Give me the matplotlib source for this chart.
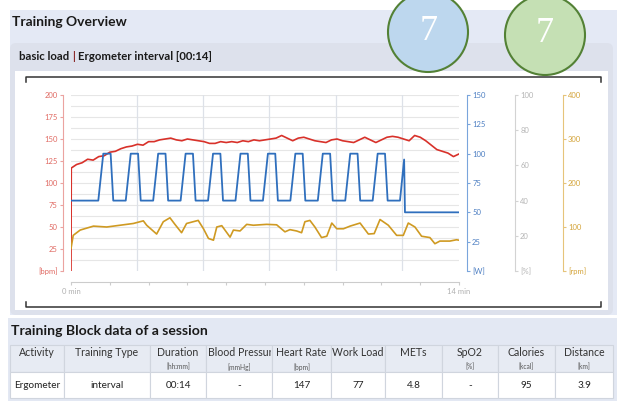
import numpy as np
import matplotlib.pyplot as plt
from matplotlib.patches import Rectangle, FancyBboxPatch, Ellipse
from matplotlib.transforms import Bbox, TransformedBbox

plt.rcParams['font.family'] = ['Lato', 'DejaVu Sans']

# heart rate [bpm] over time [min]
hr_min = [0.0, 0.01, 0.2, 0.4, 0.6, 0.8, 1.0, 1.2, 1.4, 1.6, 1.8, 2.0, 2.2, 2.4, 2.6, 2.8,
          3.0, 3.2, 3.4, 3.6, 3.8, 4.0, 4.2, 4.4, 4.6, 4.8, 5.0, 5.2, 5.4, 5.6, 5.8,
          6.0, 6.2, 6.4, 6.6, 6.8, 7.0, 7.2, 7.4, 7.6, 7.8, 8.0, 8.2, 8.4, 8.6, 8.8,
          9.0, 9.2, 9.4, 9.6, 9.8, 10.0, 10.2, 10.4, 10.6, 10.8, 11.0, 11.2, 11.4,
          11.6, 11.8, 12.0, 12.2, 12.4, 12.6, 12.8, 13.0, 13.2, 13.4, 13.6, 13.8, 14.0]
hr_bpm = [0, 117, 121, 123, 127, 126, 130, 131, 135, 136, 139, 141, 142, 144, 143, 147,
          147, 149, 150, 151, 149, 148, 150, 149, 148, 147, 145, 145, 147, 146, 147,
          146, 148, 147, 149, 148, 149, 150, 151, 154, 151, 148, 151, 152, 150, 148,
          147, 146, 149, 150, 148, 147, 146, 149, 152, 149, 146, 149, 152,
          153, 152, 150, 148, 154, 152, 148, 143, 138, 136, 134, 130, 133]

# work load [W]
wl_min = [0.0, 0.985, 1.165, 1.43, 1.525, 1.975, 2.155, 2.42, 2.515, 2.965, 3.145, 3.41, 3.505,
          3.955, 4.135, 4.40, 4.495, 4.945, 5.125, 5.39, 5.485, 5.935, 6.115, 6.38, 6.475,
          6.925, 7.105, 7.37, 7.465, 7.915, 8.095, 8.36, 8.455, 8.905, 9.085, 9.35, 9.445,
          9.895, 10.075, 10.34, 10.435, 10.885, 11.065, 11.33, 11.425, 11.87, 12.02, 12.05, 14.0]
wl_watt = [60, 60, 100, 100, 60, 60, 100, 100, 60, 60, 100, 100, 60,
           60, 100, 100, 60, 60, 100, 100, 60, 60, 100, 100, 60,
           60, 100, 100, 60, 60, 100, 100, 60, 60, 100, 100, 60,
           60, 100, 100, 60, 60, 100, 100, 60, 60, 95, 50, 50]

# cadence [rpm]
cad_min = [0.0, 0.08, 0.33, 0.81, 1.29, 1.77, 2.25, 2.61, 2.73, 3.09, 3.33, 3.57, 3.75, 3.99,
           4.17, 4.59, 4.78, 4.96, 5.14, 5.26, 5.44, 5.74, 5.86, 6.10, 6.34, 6.58, 7.06,
           7.42, 7.72, 7.90, 8.14, 8.32, 8.44, 8.62, 8.80, 9.04, 9.23, 9.41, 9.59, 9.83,
           10.07, 10.43, 10.73, 10.94, 11.15, 11.45, 11.75, 11.99, 12.17, 12.41, 12.65,
           12.95, 13.13, 13.31, 13.67, 13.91, 14.0]
cad_rpm = [51, 81, 93, 102, 100, 104, 108, 114, 104, 84, 112, 121, 106, 87,
           108, 115, 96, 74, 70, 100, 103, 77, 93, 91, 106, 104, 106,
           105, 89, 94, 91, 87, 112, 115, 100, 76, 79, 109, 96, 96,
           102, 109, 84, 85, 117, 104, 81, 81, 109, 100, 79,
           76, 62, 68, 68, 71, 70]

grid_min = [2.38, 4.76, 7.15, 9.55, 11.94]

headers = ["Activity", "Training Type", "Duration", "Blood Pressure", "Heart Rate",
           "Work Load", "METs", "SpO2", "Calories", "Distance"]
units = ["", "", "[hh:mm]", "[mmHg]", "[bpm]", "", "", "[%]", "[kcal]", "[km]"]
values = ["Ergometer", "interval", "00:14", "-", "147", "77", "4.8", "-", "95", "3.9"]
col_x = [10, 64, 150, 206, 272, 331, 385, 442, 498, 555, 613]

W, H = 617, 401
fig = plt.figure(figsize=(W / 100, H / 100), dpi=100)

# page background drawn in pixel coordinates
bg = fig.add_axes([0, 0, 1, 1])
bg.set_xlim(0, W)
bg.set_ylim(H, 0)
bg.axis('off')
bg.set_zorder(-1)

bg.add_patch(Rectangle((10, 10), 607, 305, fc='#e4e9f5', ec='none'))
bg.add_patch(FancyBboxPatch((10, 43), 603, 272, boxstyle='round,pad=0,rounding_size=6',
                            fc='#dde1ec', ec='none'))
bg.add_patch(Rectangle((15, 71), 593, 239, fc='white', ec='none'))
bg.plot([25.5, 25.5, 601, 601], [81.5, 77, 77, 81.5], color='#333333', lw=1.1)
bg.plot([25.5, 25.5, 601, 601], [302, 306.5, 306.5, 302], color='#333333', lw=1.1)

bg.text(12, 22, "Training Overview", fontsize=10, fontweight='bold', color='#1a1a1a',
        ha='left', va='center')
t1 = bg.text(19, 57, "basic load", fontsize=8.2, fontweight='bold', color='#1a1a1a',
             ha='left', va='center')
t2 = bg.annotate("|", xy=(1, 0), xycoords=t1, xytext=(1.8, 0), textcoords='offset points',
                 va='bottom', fontsize=8.2, fontweight='bold', color='#8c2d2d')
bg.annotate("Ergometer interval [00:14]", xy=(1, 0), xycoords=t2, xytext=(2.5, 0),
            textcoords='offset points', va='bottom', fontsize=8.2, fontweight='bold',
            color='#1a1a1a')

# the two "7" badges
bg.add_patch(Ellipse((428, 32), 80, 80, fc='#bdd7ee', ec='#538135', lw=1.5))
bg.add_patch(Ellipse((545, 35), 80, 80, fc='#c5e0b4', ec='#538135', lw=1.5))
bg.text(429, 32, "7", fontsize=26, color='white', family='Liberation Serif',
        ha='center', va='center')
bg.text(545, 34, "7", fontsize=26, color='white', family='Liberation Serif',
        ha='center', va='center')

# table block
bg.add_patch(Rectangle((8, 318), 609, 83, fc='#e3e8f3', ec='none'))
bg.text(11, 331, "Training Block data of a session", fontsize=10.1, fontweight='bold',
        color='#1a1a1a', ha='left', va='center')
for i in range(len(headers)):
    x0, x1 = col_x[i], col_x[i + 1]
    bg.add_patch(Rectangle((x0, 345), x1 - x0, 27, fc='#e7ebf3', ec='#d0d5de', lw=0.8))
    bg.add_patch(Rectangle((x0, 372), x1 - x0, 26, fc='white', ec='#d0d5de', lw=0.8))
    xc = (x0 + x1) / 2
    if headers[i] == "Blood Pressure":
        # too wide for its column: left aligned and cut off like in the web table
        ht = bg.text(x0 + 2, 353, headers[i], fontsize=7.6, color='#333333',
                     ha='left', va='center')
        ht.set_clip_box(TransformedBbox(Bbox([[x0, 345], [x1 - 1, 372]]), bg.transData))
        ht.set_clip_on(True)
    else:
        bg.text(xc, 353, headers[i], fontsize=7.6, color='#333333',
                ha='center', va='center')
    if units[i]:
        bg.text(xc, 367, units[i], fontsize=4.8, color='#555555', ha='center', va='center')
    bg.text(xc, 386, values[i], fontsize=7.2, color='#222222', ha='center', va='center')

# chart
ax = fig.add_axes([71 / W, 1 - 271 / H, 388 / W, 176 / H])
ax.patch.set_visible(False)
ax.set_xlim(0, 14)
ax.set_ylim(0, 200)
for y in np.arange(12.5, 200.1, 12.5):
    ax.axhline(y, color='#e6e6e6', lw=0.8, zorder=0)
for g in grid_min:
    ax.axvline(g, color='#dde1e8', lw=0.9, zorder=0)

red, blue, grey, gold = '#d8312a', '#2f6fbd', '#bdbdbd', '#cf9a22'
ax.plot(hr_min, hr_bpm, color=red, lw=1.2, zorder=3)

for s in ['top', 'right']:
    ax.spines[s].set_visible(False)
ax.spines['left'].set_position(('outward', 8 * 0.72))
ax.spines['left'].set_color('#eba3a0')
ax.spines['bottom'].set_position(('outward', 11 * 0.72))
ax.spines['bottom'].set_color('#cccccc')
ax.set_yticks(np.arange(0, 201, 25))
ax.set_yticklabels(['[bpm]'] + [str(v) for v in range(25, 201, 25)])
ax.tick_params(axis='y', colors='#eba3a0', labelcolor='#e06a63', length=2.2, width=0.8,
               labelsize=5.5, pad=1.5)
ax.set_xticks(np.linspace(0, 14, 11))
ax.set_xticklabels(['0 min'] + [''] * 9 + ['14 min'])
ax.tick_params(axis='x', colors='#cccccc', labelcolor='#b0b0b0', length=2.5, width=0.8,
               labelsize=5.5, pad=2)


def side_axis(offset_px, top, step, unit, spine_c, label_c):
    a = ax.twinx()
    a.set_ylim(0, top)
    for s in ['top', 'left', 'bottom']:
        a.spines[s].set_visible(False)
    a.spines['right'].set_position(('outward', offset_px * 0.72))
    a.spines['right'].set_color(spine_c)
    ticks = np.arange(0, top + 1, step)
    a.set_yticks(ticks)
    a.set_yticklabels([unit] + [str(int(v)) for v in ticks[1:]])
    a.tick_params(axis='y', colors=spine_c, labelcolor=label_c, length=2.2, width=0.8,
                  labelsize=5.5, pad=1.5)
    return a


ax_w = side_axis(8, 150, 25, '[W]', '#7aa5dc', '#4d7fc2')
ax_w.plot(wl_min, wl_watt, color=blue, lw=1.3, zorder=3)
ax_s = side_axis(56, 100, 20, '[%]', '#d3d3d3', '#b5b5b5')
ax_c = side_axis(104, 400, 100, '[rpm]', '#e6c47a', '#d4a43a')
ax_c.plot(cad_min, cad_rpm, color=gold, lw=1.2, zorder=3)

plt.savefig('out.png', dpi=100)
